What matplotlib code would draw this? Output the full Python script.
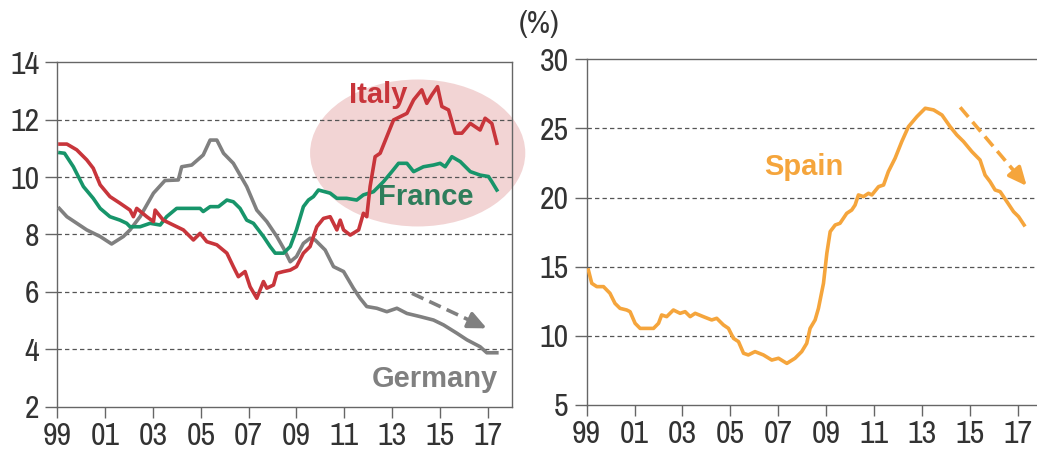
import matplotlib
matplotlib.use("Agg")
import matplotlib.pyplot as plt
import matplotlib.font_manager as fm
from matplotlib.patches import Ellipse

# ---------------- data ----------------
germany_t = [1999.08, 1999.4, 2000.23, 2000.79, 2001.27, 2001.76, 2002.04, 2002.46, 2003.02, 2003.5,
             2004.06, 2004.2, 2004.62, 2005.1, 2005.39, 2005.67, 2005.95, 2006.36, 2006.92, 2007.34,
             2007.76, 2008.18, 2008.46, 2008.74, 2009.0, 2009.29, 2009.57, 2009.78, 2010.2, 2010.55,
             2010.97, 2011.38, 2011.66, 2011.94, 2012.36, 2012.78, 2013.2, 2013.62, 2014.17, 2014.73,
             2015.15, 2015.71, 2016.13, 2016.68, 2016.96, 2017.38]
germany_v = [8.91, 8.62, 8.16, 7.93, 7.67, 7.93, 8.16, 8.62, 9.44, 9.88,
             9.90, 10.36, 10.42, 10.77, 11.29, 11.29, 10.83, 10.48, 9.67, 8.85,
             8.45, 7.93, 7.52, 7.05, 7.23, 7.69, 7.87, 7.81, 7.46, 6.88,
             6.71, 6.13, 5.78, 5.49, 5.43, 5.31, 5.43, 5.25, 5.14, 5.02,
             4.85, 4.56, 4.33, 4.09, 3.88, 3.88]

italy_t = [1999.11, 1999.4, 1999.81, 2000.23, 2000.5, 2000.79, 2001.2, 2001.62, 2002.04, 2002.18,
           2002.32, 2002.74, 2003.02, 2003.09, 2003.43, 2003.85, 2004.27, 2004.69, 2004.97, 2005.25,
           2005.67, 2006.09, 2006.36, 2006.57, 2006.85, 2007.06, 2007.34, 2007.62, 2007.76, 2008.04,
           2008.18, 2008.46, 2008.74, 2009.0, 2009.29, 2009.57, 2009.85, 2010.13, 2010.41, 2010.69,
           2010.83, 2010.97, 2011.25, 2011.6, 2011.8, 2011.94, 2012.08, 2012.29, 2012.5, 2012.78,
           2013.06, 2013.62, 2013.9, 2014.24, 2014.45, 2014.66, 2014.9, 2015.08, 2015.36, 2015.64,
           2015.92, 2016.27, 2016.68, 2016.89, 2017.17, 2017.38]
italy_v = [11.15, 11.15, 10.95, 10.60, 10.31, 9.73, 9.32, 9.09, 8.85, 8.62,
           8.91, 8.62, 8.45, 8.85, 8.50, 8.33, 8.16, 7.81, 8.04, 7.75,
           7.64, 7.35, 6.88, 6.53, 6.71, 6.18, 5.78, 6.36, 6.13, 6.24,
           6.65, 6.71, 6.76, 6.88, 7.35, 7.58, 8.27, 8.56, 8.62, 8.16,
           8.50, 8.16, 7.98, 8.16, 8.74, 8.62, 9.67, 10.71, 10.83, 11.41,
           11.99, 12.22, 12.69, 13.04, 12.57, 12.86, 13.15, 12.46, 12.34, 11.53,
           11.53, 11.87, 11.64, 12.05, 11.87, 11.18]

france_t = [1999.11, 1999.3, 1999.67, 2000.09, 2000.5, 2000.79, 2001.2, 2001.62, 2001.9, 2002.04,
            2002.46, 2002.88, 2003.3, 2003.57, 2003.99, 2004.41, 2004.97, 2005.1, 2005.39, 2005.74,
            2006.09, 2006.36, 2006.64, 2006.92, 2007.2, 2007.62, 2007.9, 2008.11, 2008.46, 2008.74,
            2009.0, 2009.29, 2009.5, 2009.71, 2009.92, 2010.41, 2010.69, 2011.1, 2011.52, 2011.8,
            2012.22, 2012.64, 2012.99, 2013.27, 2013.62, 2013.9, 2014.31, 2014.73, 2015.01, 2015.22,
            2015.5, 2015.85, 2016.27, 2016.68, 2017.03, 2017.17, 2017.38]
france_v = [10.85, 10.83, 10.36, 9.67, 9.26, 8.91, 8.62, 8.50, 8.39, 8.27,
            8.27, 8.39, 8.33, 8.62, 8.91, 8.91, 8.91, 8.80, 8.97, 8.97,
            9.20, 9.14, 8.91, 8.50, 8.39, 7.93, 7.58, 7.35, 7.35, 7.58,
            8.16, 8.97, 9.20, 9.32, 9.55, 9.44, 9.26, 9.26, 9.20, 9.38,
            9.49, 9.84, 10.19, 10.48, 10.48, 10.19, 10.36, 10.42, 10.48, 10.36,
            10.71, 10.54, 10.19, 10.07, 10.02, 9.84, 9.55]

spain_t = [1999.07, 1999.21, 1999.42, 1999.7, 1999.97, 2000.18, 2000.39, 2000.67, 2000.81, 2001.02,
           2001.23, 2001.51, 2001.79, 2002.0, 2002.13, 2002.34, 2002.62, 2002.9, 2003.11, 2003.32,
           2003.53, 2003.87, 2004.22, 2004.43, 2004.71, 2004.92, 2005.13, 2005.34, 2005.55, 2005.75,
           2006.03, 2006.38, 2006.73, 2007.01, 2007.36, 2007.7, 2007.98, 2008.19, 2008.33, 2008.54,
           2008.68, 2008.89, 2009.03, 2009.17, 2009.38, 2009.58, 2009.86, 2010.07, 2010.21, 2010.35,
           2010.56, 2010.77, 2010.91, 2011.19, 2011.4, 2011.6, 2011.88, 2012.16, 2012.44, 2012.79,
           2013.14, 2013.49, 2013.84, 2014.18, 2014.46, 2014.74, 2015.09, 2015.43, 2015.64, 2015.85,
           2016.06, 2016.27, 2016.55, 2016.83, 2017.04, 2017.27]
spain_v = [14.76, 13.80, 13.56, 13.56, 13.08, 12.35, 11.99, 11.87, 11.75, 10.91,
           10.54, 10.54, 10.54, 10.91, 11.51, 11.39, 11.87, 11.63, 11.75, 11.39,
           11.63, 11.39, 11.15, 11.27, 10.79, 10.54, 9.82, 9.58, 8.74, 8.62,
           8.86, 8.62, 8.25, 8.38, 8.01, 8.38, 8.86, 9.46, 10.54, 11.15,
           11.99, 13.80, 15.97, 17.54, 18.02, 18.14, 18.86, 19.10, 19.46, 20.19,
           20.07, 20.31, 20.19, 20.79, 20.91, 21.88, 22.84, 24.05, 25.13, 25.85,
           26.46, 26.34, 25.97, 25.13, 24.53, 24.05, 23.32, 22.72, 21.63, 21.15,
           20.55, 20.43, 19.71, 18.98, 18.62, 18.02]

xtick_pos = [1999, 2001, 2003, 2005, 2007, 2009, 2011, 2013, 2015, 2017]
xtick_labels = ["99", "01", "03", "05", "07", "09", "11", "13", "15", "17"]
left_yticks = [2, 4, 6, 8, 10, 12, 14]
right_yticks = [5, 10, 15, 20, 25, 30]

# ---------------- fonts ----------------
available = {f.name for f in fm.fontManager.ttflist}


def pick(options, default):
    for o in options:
        if o in available:
            return o
    return default


NARROW = pick(["Liberation Sans Narrow", "Arial Narrow", "Archivo Narrow", "PT Sans Narrow",
               "Roboto Condensed", "Pragati Narrow", "Asap Condensed"], "DejaVu Sans")
BOLD = pick(["Liberation Sans", "Arimo", "Arial"], "DejaVu Sans")
narrow = [NARROW, "DejaVu Sans"]
boldfam = [BOLD, "DejaVu Sans"]
TICK_FS = 23 if NARROW != "DejaVu Sans" else 18

# ---------------- style ----------------
C_IT = "#C8353B"
C_FR = "#17956A"
C_FR_TXT = "#2E7D5B"
C_DE = "#808080"
C_ES = "#F5A53C"
C_PINK = "#F2D4D4"
SPINE = "#666666"
TXT = "#333333"

fig = plt.figure(figsize=(10.37, 4.51), dpi=100)
axL = fig.add_axes([0.0553, 0.0982, 0.4381, 0.7637])
axR = fig.add_axes([0.5658, 0.102, 0.4386, 0.7665])


def style(ax, yticks, ylim):
    ax.set_xlim(1999, 2018)
    ax.set_ylim(*ylim)
    ax.set_xticks(xtick_pos)
    ax.set_xticklabels(xtick_labels, fontfamily=narrow, fontsize=TICK_FS, color=TXT)
    ax.set_yticks(yticks)
    ax.set_yticklabels([str(v) for v in yticks], fontfamily=narrow, fontsize=TICK_FS, color=TXT)
    ax.tick_params(axis="y", length=8.5, width=1, color=SPINE, pad=4.5)
    ax.tick_params(axis="x", length=8, width=1, color=SPINE, pad=3)
    for s in ax.spines.values():
        s.set_color(SPINE)
        s.set_linewidth(1)
    for v in yticks[1:-1]:
        ax.axhline(v, color="#555555", lw=0.9, ls=(0, (3.5, 2.5)), zorder=1)


style(axL, left_yticks, (2, 14))
style(axR, right_yticks, (5, 30))

# ellipse highlight
ell = Ellipse((2014.07, 10.84), 9.0, 5.12, facecolor=C_PINK, edgecolor="none",
              zorder=0.5, clip_on=False)
axL.add_patch(ell)

axL.plot(germany_t, germany_v, color=C_DE, lw=2.6, zorder=3)
axL.plot(france_t, france_v, color=C_FR, lw=2.6, zorder=4)
axL.plot(italy_t, italy_v, color=C_IT, lw=2.6, zorder=5)
axR.plot(spain_t, spain_v, color=C_ES, lw=2.6, zorder=3)

axL.text(2012.43, 12.86, "Italy", color=C_IT, fontsize=21, fontweight="bold",
         fontfamily=boldfam, ha="center", va="center", zorder=6)
axL.text(2014.39, 9.32, "France", color=C_FR_TXT, fontsize=21, fontweight="bold",
         fontfamily=boldfam, ha="center", va="center", zorder=6)
axL.text(2014.8, 2.98, "Germany", color=C_DE, fontsize=21, fontweight="bold",
         fontfamily=boldfam, ha="center", va="center", zorder=6)
axR.text(2008.07, 22.24, "Spain", color=C_ES, fontsize=21, fontweight="bold",
         fontfamily=boldfam, ha="center", va="center", zorder=6)

fig.text(539.5 / 1037, 1 - 24 / 451, "(%)", fontfamily=narrow, fontsize=TICK_FS,
         color=TXT, ha="center", va="center")


def dashed_arrow(ax, start, end, color):
    sx, sy = start
    ex, ey = end
    f = 0.78
    mx, my = sx + (ex - sx) * f, sy + (ey - sy) * f
    ax.plot([sx, mx], [sy, my], color=color, lw=2.6, ls=(0, (3.5, 1.8)),
            zorder=6, solid_capstyle="butt", dash_capstyle="butt")
    ax.annotate("", xy=(ex, ey), xytext=(mx, my),
                arrowprops=dict(arrowstyle="-|>,head_length=1.1,head_width=0.5",
                                color=color, lw=2.6, shrinkA=0, shrinkB=0),
                zorder=6)


dashed_arrow(axL, (2013.83, 5.95), (2016.96, 4.73), C_DE)
dashed_arrow(axR, (2014.6, 26.53), (2017.38, 20.84), C_ES)

fig.savefig("out.png", dpi=100)
